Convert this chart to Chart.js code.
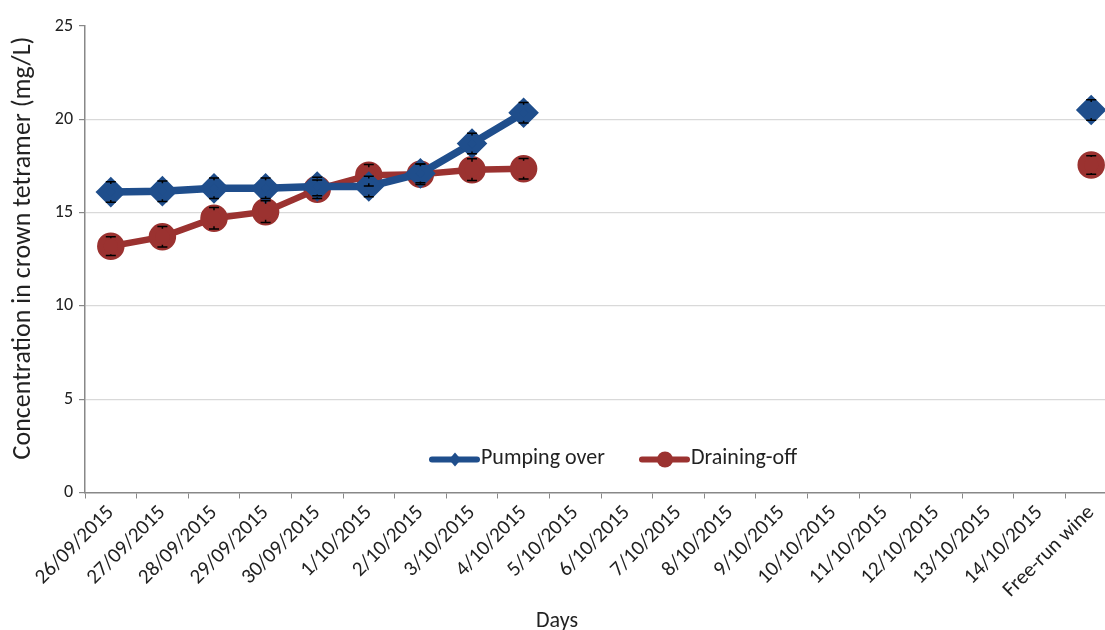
<!DOCTYPE html>
<html>
<head>
<meta charset="utf-8">
<script src="https://cdn.jsdelivr.net/npm/chart.js@4.4.1/dist/chart.umd.min.js"></script>
<style>
  html, body { margin: 0; padding: 0; background: #fff; overflow: hidden; }
  #wrap { position: relative; width: 1120px; height: 630px; }
</style>
</head>
<body>
<div id="wrap"><canvas id="chart"></canvas></div>
<script>
const days = ["26/09/2015", "27/09/2015", "28/09/2015", "29/09/2015", "30/09/2015",
  "1/10/2015", "2/10/2015", "3/10/2015", "4/10/2015", "5/10/2015", "6/10/2015",
  "7/10/2015", "8/10/2015", "9/10/2015", "10/10/2015", "11/10/2015", "12/10/2015",
  "13/10/2015", "14/10/2015", "Free-run wine"];

const pumpingOver = [16.1, 16.15, 16.3, 16.3, 16.4, 16.4, 17.1, 18.7, 20.35,
  null, null, null, null, null, null, null, null, null, null, 20.5];
const pumpingErr = [0.55, 0.55, 0.55, 0.55, 0.5, 0.55, 0.5, 0.55, 0.55,
  null, null, null, null, null, null, null, null, null, null, 0.55];

const drainingOff = [13.2, 13.7, 14.7, 15.05, 16.25, 17.0, 17.05, 17.3, 17.35,
  null, null, null, null, null, null, null, null, null, null, 17.55];
const drainingErr = [0.5, 0.55, 0.58, 0.58, 0.5, 0.58, 0.55, 0.58, 0.55,
  null, null, null, null, null, null, null, null, null, null, 0.5];

const yTicks = [0, 5, 10, 15, 20, 25];

const blue = "#1f4e8c";
const red = "#9b3230";
const font = "Carlito, Lato, sans-serif";
const textColor = "#222";

// vertical error bars with caps; the part under the marker is left out
const errorBars = {
  id: "errorBars",
  afterDatasetsDraw(chart) {
    const ctx = chart.ctx;
    const y = chart.scales.y;
    chart.data.datasets.forEach((ds, i) => {
      const meta = chart.getDatasetMeta(i);
      ds.errors.forEach((e, j) => {
        const v = ds.data[j];
        if (v == null || e == null) return;
        const px = meta.data[j].x;
        const py = meta.data[j].y;
        const top = y.getPixelForValue(v + e);
        const bot = y.getPixelForValue(v - e);
        const r = 8;
        ctx.save();
        ctx.strokeStyle = "#000";
        ctx.lineWidth = 1.5;
        ctx.beginPath();
        if (top < py - r) { ctx.moveTo(px, top); ctx.lineTo(px, py - r); }
        if (bot > py + r) { ctx.moveTo(px, py + r); ctx.lineTo(px, bot); }
        ctx.moveTo(px - 5, top); ctx.lineTo(px + 5, top);
        ctx.moveTo(px - 5, bot); ctx.lineTo(px + 5, bot);
        ctx.stroke();
        ctx.restore();
      });
    });
  }
};

// legend inside the plot near the bottom, and both axis titles
const extraText = {
  id: "extraText",
  afterDraw(chart) {
    const ctx = chart.ctx;
    const area = chart.chartArea;
    const cy = area.bottom - 33;
    const starts = [432, 642];
    chart.data.datasets.forEach((ds, i) => {
      const x0 = starts[i];
      ctx.save();
      ctx.strokeStyle = ds.borderColor;
      ctx.lineWidth = 6;
      ctx.lineCap = "round";
      ctx.beginPath();
      ctx.moveTo(x0, cy); ctx.lineTo(x0 + 45, cy);
      ctx.stroke();
      ctx.fillStyle = ds.backgroundColor;
      ctx.beginPath();
      if (ds.pointStyle === "rectRot") {
        ctx.moveTo(x0 + 23, cy - 7); ctx.lineTo(x0 + 29, cy);
        ctx.lineTo(x0 + 23, cy + 7); ctx.lineTo(x0 + 17, cy);
      } else {
        ctx.arc(x0 + 23, cy, 8, 0, Math.PI * 2);
      }
      ctx.fill();
      ctx.fillStyle = textColor;
      ctx.font = "22px " + font;
      ctx.textBaseline = "middle";
      ctx.fillText(ds.label, x0 + 49, cy - 1);
      ctx.restore();
    });
    ctx.save();
    ctx.fillStyle = textColor;
    ctx.font = "22px " + font;
    ctx.textAlign = "center";
    ctx.textBaseline = "alphabetic";
    ctx.fillText("Days", 557, 627);
    ctx.translate(30, 248);
    ctx.rotate(-Math.PI / 2);
    ctx.font = "26px " + font;
    ctx.fillText("Concentration in crown tetramer (mg/L)", 0, 0);
    ctx.restore();
  }
};

new Chart(document.getElementById("chart"), {
  type: "line",
  data: {
    labels: days,
    datasets: [
      {
        label: "Pumping over", data: pumpingOver, errors: pumpingErr,
        borderColor: blue, backgroundColor: blue, borderWidth: 7.5,
        pointStyle: "rectRot", pointRadius: 10, pointHoverRadius: 10,
        spanGaps: false, tension: 0
      },
      {
        label: "Draining-off", data: drainingOff, errors: drainingErr,
        borderColor: red, backgroundColor: red, borderWidth: 6.5,
        pointStyle: "circle", pointRadius: 10.5, pointHoverRadius: 10.5,
        spanGaps: false, tension: 0
      }
    ]
  },
  options: {
    responsive: true,
    maintainAspectRatio: false,
    animation: false,
    layout: { autoPadding: false, padding: { top: 26, right: 3, left: 0, bottom: 0 } },
    plugins: { legend: { display: false }, tooltip: { enabled: false } },
    scales: {
      x: {
        offset: true,
        grid: { display: true, drawOnChartArea: false, offset: true, tickLength: 6, color: "#888" },
        border: { color: "#888", width: 1.5 },
        ticks: { minRotation: 45, maxRotation: 45, autoSkip: false, color: textColor,
          font: { family: font, size: 21 }, padding: 2 },
        afterFit(s) { s.height = 137.5; s.paddingLeft = 0; s.paddingRight = 0; }
      },
      y: {
        min: 0, max: 25,
        afterBuildTicks(s) { s.ticks = yTicks.map(v => ({ value: v })); },
        grid: {
          color: ctx => (ctx.tick && (ctx.tick.value === 25 || ctx.tick.value === 0)) ? "rgba(0,0,0,0)" : "#d9d9d9",
          tickColor: "#888", tickLength: 6, lineWidth: 1.2
        },
        border: { color: "#888", width: 1.5 },
        ticks: { color: textColor, font: { family: font, size: 18 }, padding: 6 },
        afterFit(s) { s.width = 85; s.paddingTop = 0; s.paddingBottom = 0; }
      }
    }
  },
  plugins: [errorBars, extraText]
});
</script>
</body>
</html>
